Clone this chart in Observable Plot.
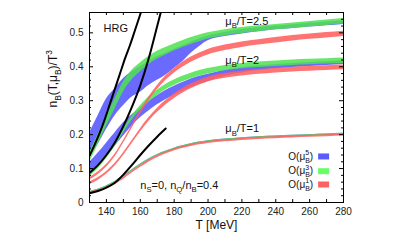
<!DOCTYPE html>
<html><head><meta charset="utf-8">
<script src="https://cdn.jsdelivr.net/npm/d3@7"></script>
<script src="https://cdn.jsdelivr.net/npm/@observablehq/plot@0.6"></script>
<style>body{margin:0;background:#fff}</style>
</head><body><div id="chart"></div>
<script>
// ---- data ----
const T = [130,135,140,145,150,155,160,165,170,175,180,185,190,195,200,210,220,230,240,250,260,270,280];

// mu_B/T = 2.5
const blue25Lo  = [0.13,0.17,0.215,0.255,0.285,0.31,0.325,0.345,0.36,0.375,0.395,0.415,0.44,0.46,0.477,0.489,0.497,0.503,0.509,0.513,0.517,0.521,0.525];
const blue25Hi  = [0.205,0.255,0.305,0.335,0.365,0.385,0.40,0.415,0.43,0.44,0.452,0.462,0.472,0.483,0.491,0.501,0.51,0.515,0.52,0.524,0.528,0.532,0.536];
const green25Lo = [0.118,0.17,0.225,0.275,0.325,0.361,0.385,0.406,0.4225,0.435,0.4465,0.457,0.466,0.474,0.482,0.491,0.498,0.503,0.509,0.513,0.5175,0.522,0.526];
const green25Hi = [0.148,0.20,0.255,0.305,0.355,0.389,0.411,0.43,0.4455,0.457,0.4675,0.477,0.486,0.494,0.50,0.509,0.516,0.521,0.525,0.529,0.5335,0.538,0.542];
const red25Lo   = [0.066,0.082,0.104,0.134,0.174,0.2175,0.26,0.2995,0.332,0.3595,0.381,0.3985,0.4135,0.4255,0.435,0.448,0.457,0.464,0.47,0.476,0.481,0.485,0.489];
const red25Hi   = [0.074,0.09,0.112,0.142,0.182,0.2265,0.27,0.3105,0.344,0.3725,0.395,0.4135,0.4285,0.4405,0.451,0.464,0.473,0.48,0.486,0.492,0.497,0.501,0.505];

// mu_B/T = 2
const blue2Lo  = [0.088,0.11,0.135,0.165,0.195,0.225,0.25,0.27,0.288,0.303,0.316,0.328,0.339,0.349,0.357,0.372,0.382,0.389,0.394,0.398,0.401,0.404,0.407];
const blue2Hi  = [0.118,0.145,0.175,0.205,0.235,0.258,0.278,0.298,0.315,0.33,0.343,0.354,0.364,0.372,0.378,0.39,0.398,0.403,0.407,0.41,0.413,0.415,0.418];
const green2Lo = [0.076,0.099,0.129,0.164,0.204,0.242,0.271,0.295,0.315,0.332,0.345,0.356,0.365,0.373,0.379,0.388,0.394,0.398,0.401,0.404,0.406,0.408,0.41];
const green2Hi = [0.088,0.111,0.141,0.176,0.216,0.254,0.285,0.311,0.331,0.348,0.361,0.372,0.381,0.389,0.395,0.404,0.41,0.414,0.417,0.42,0.422,0.424,0.426];
const red2Lo   = [0.052,0.065,0.083,0.107,0.138,0.1725,0.207,0.2385,0.265,0.2875,0.306,0.322,0.335,0.346,0.355,0.366,0.373,0.378,0.382,0.385,0.387,0.389,0.391];
const red2Hi   = [0.06,0.073,0.091,0.115,0.146,0.1815,0.217,0.2495,0.277,0.3005,0.32,0.336,0.349,0.36,0.369,0.38,0.387,0.392,0.396,0.399,0.401,0.403,0.405];

// mu_B/T = 1
const green1Lo = [0.028,0.035,0.045,0.058,0.074,0.092,0.109,0.124,0.137,0.147,0.156,0.163,0.169,0.174,0.178,0.183,0.187,0.19,0.192,0.194,0.196,0.198,0.2];
const green1Hi = [0.032,0.039,0.049,0.062,0.078,0.096,0.113,0.128,0.141,0.151,0.16,0.167,0.173,0.178,0.182,0.187,0.191,0.194,0.196,0.198,0.2,0.202,0.204];
const red1Lo   = [0.025,0.031,0.04,0.052,0.068,0.086,0.103,0.119,0.132,0.143,0.152,0.159,0.165,0.17,0.174,0.179,0.183,0.186,0.188,0.19,0.192,0.194,0.196];
const red1Hi   = [0.031,0.037,0.046,0.058,0.074,0.092,0.109,0.125,0.138,0.149,0.158,0.165,0.171,0.176,0.18,0.185,0.189,0.192,0.194,0.196,0.198,0.2,0.202];

// HRG curves
const hrgT25 = [130,133,136,139,142,145,148,151,154,157,160,161];
const hrg25  = [0.138,0.17,0.205,0.245,0.29,0.335,0.38,0.425,0.465,0.51,0.555,0.57];
const hrgT2  = [130,135,140,145,150,155,160,165,170,173];
const hrg2   = [0.087,0.11,0.14,0.177,0.225,0.281,0.345,0.425,0.52,0.578];
const hrgT1  = [130,135,140,145,150,155,160,165,170,175];
const hrg1   = [0.027,0.034,0.044,0.058,0.082,0.11,0.14,0.168,0.194,0.218];

// ticks / labels
const xTickMarks = [140,150,160,170,180,190,200,210,220,230,240,250,260,270];
const xTickLabels = [140,160,180,200,220,240,260,280];
const yMajor = [0.1,0.2,0.3,0.4,0.5];
const yMinor = [0.02,0.04,0.06,0.08,0.12,0.14,0.16,0.18,0.22,0.24,0.26,0.28,0.32,0.34,0.36,0.38,0.42,0.44,0.46,0.48,0.52,0.54];
const yTickLabels = [0,0.1,0.2,0.3,0.4,0.5];

const legendLabels = ["O(μ_{B}^{5})","O(μ_{B}^{3})","O(μ_{B}^{1})"];
const annoTexts = ["HRG","μ_{B}/T=2.5","μ_{B}/T=2","μ_{B}/T=1","n_{S}=0, n_{Q}/n_{B}=0.4"];

// ---- layout / style ----
const W = 407, H = 244, mL = 89, mR = 64, mT = 12, mB = 42;
const frameW = W - mL - mR, frameH = H - mT - mB;
const BLUE = "#5a5aff", GREEN = "#4fe24f", RED = "#ff6060";
const annoPos = [[138.3,0.512],[210.2,0.535],[210.2,0.419],[210.2,0.217],[160,0.05]];
const legendRows = [0.1357,0.0923,0.0531];
const legendColors = [BLUE, "#66ff66", RED];

const band = (lo, hi) => T.map((t, i) => ({T: t, lo: lo[i], hi: hi[i]}));
const curve = (ts, vs) => ts.map((t, i) => ({T: t, v: vs[i]}));

const bands = [
  {d: band(blue25Lo, blue25Hi), c: BLUE, o: 0.9},
  {d: band(blue2Lo, blue2Hi), c: BLUE, o: 0.9},
  {d: band(green1Lo, green1Hi), c: BLUE, o: 0.9},
  {d: band(green25Lo, green25Hi), c: GREEN, o: 0.85},
  {d: band(green2Lo, green2Hi), c: GREEN, o: 0.85},
  {d: band(green1Lo, green1Hi), c: GREEN, o: 0.85},
  {d: band(red25Lo, red25Hi), c: RED, o: 0.88},
  {d: band(red2Lo, red2Hi), c: RED, o: 0.88},
  {d: band(red1Lo, red1Hi), c: RED, o: 0.88}
];
const hrgs = [curve(hrgT25, hrg25), curve(hrgT2, hrg2), curve(hrgT1, hrg1)];

const annos = annoTexts.map((s, i) => ({s, T: annoPos[i][0], v: annoPos[i][1]}));
const legend = legendLabels.map((s, i) => ({s, v: legendRows[i], c: legendColors[i]}));

const plot = Plot.plot({
  width: W, height: H,
  marginLeft: mL, marginRight: mR, marginTop: mT, marginBottom: mB,
  x: {domain: [130, 280]},
  y: {domain: [0, 0.56]},
  style: {fontFamily: "'Liberation Sans', Arial, sans-serif", fontSize: "10px", color: "#222", background: "white"},
  marks: [
    ...bands.map(b => Plot.areaY(b.d, {x: "T", y1: "lo", y2: "hi", fill: b.c, fillOpacity: b.o, curve: "monotone-x"})),
    ...hrgs.map(h => Plot.line(h, {x: "T", y: "v", stroke: "black", strokeWidth: 2, curve: "monotone-x", clip: true})),
    // inward ticks on all four sides
    Plot.ruleX(xTickMarks, {insetTop: frameH - 3, stroke: "black"}),
    Plot.ruleX(xTickMarks, {insetBottom: frameH - 3, stroke: "black"}),
    Plot.ruleY(yMajor, {insetRight: frameW - 4, stroke: "black"}),
    Plot.ruleY(yMajor, {insetLeft: frameW - 4, stroke: "black"}),
    Plot.ruleY(yMinor, {insetRight: frameW - 2, stroke: "black"}),
    Plot.ruleY(yMinor, {insetLeft: frameW - 2, stroke: "black"}),
    Plot.frame({stroke: "black"}),
    Plot.axisX({ticks: xTickLabels, tickSize: 0, tickPadding: 5, label: null}),
    Plot.axisY({ticks: yTickLabels, tickSize: 0, tickPadding: 6, label: null,
      tickFormat: d => d === 0 ? "0" : d.toFixed(1)}),
    Plot.text(["T [MeV]"], {frameAnchor: "bottom", dy: 26, fontSize: 12, fill: "#111"}),
    Plot.text(["n_{B}(T,μ_{B})/T^{3}"], {frameAnchor: "left", dx: -36, rotate: -90, fontSize: 12, fill: "#111"}),
    Plot.text(annos, {x: "T", y: "v", text: "s", textAnchor: "start", fontSize: 11, fill: "#111"}),
    Plot.ruleY(legend, {y: "v", x1: 265.3, x2: 271.8, stroke: "c", strokeWidth: 6}),
    Plot.text(legend, {x: 262.1, y: "v", text: "s", textAnchor: "end", fontSize: 10, fill: "#111"})
  ]
});
document.getElementById("chart").append(plot);

// turn _{..} / ^{..} markup into real sub/superscript tspans
function richify(svg) {
  const NS = "http://www.w3.org/2000/svg";
  svg.querySelectorAll("text").forEach(el => {
    const s = el.textContent;
    if (!/[_^]\{/.test(s)) return;
    const fs = parseFloat(getComputedStyle(el).fontSize) || 10;
    const small = fs * 0.7, subShift = fs * 0.3, supShift = -fs * 0.42;
    while (el.firstChild) el.removeChild(el.firstChild);
    const re = /([_^])\{([^}]*)\}|([^_^]+)/g;
    let m, cur = 0, lastSubW = null, pendDx = 0;
    while ((m = re.exec(s))) {
      const ts = document.createElementNS(NS, "tspan");
      if (m[3] !== undefined) {
        ts.textContent = m[3];
        ts.setAttribute("dy", -cur); cur = 0;
        if (pendDx) ts.setAttribute("dx", pendDx);
        pendDx = 0; lastSubW = null;
        el.appendChild(ts);
      } else if (m[1] === "_") {
        ts.textContent = m[2];
        ts.setAttribute("font-size", small);
        ts.setAttribute("dy", subShift - cur); cur = subShift;
        el.appendChild(ts);
        lastSubW = ts.getComputedTextLength();
      } else {
        ts.textContent = m[2];
        ts.setAttribute("font-size", small);
        ts.setAttribute("dy", supShift - cur); cur = supShift;
        if (lastSubW != null) ts.setAttribute("dx", -lastSubW);
        el.appendChild(ts);
        if (lastSubW != null) pendDx = Math.max(0, lastSubW - ts.getComputedTextLength());
        lastSubW = null;
      }
    }
  });
}
richify(plot);
</script>
</body></html>
